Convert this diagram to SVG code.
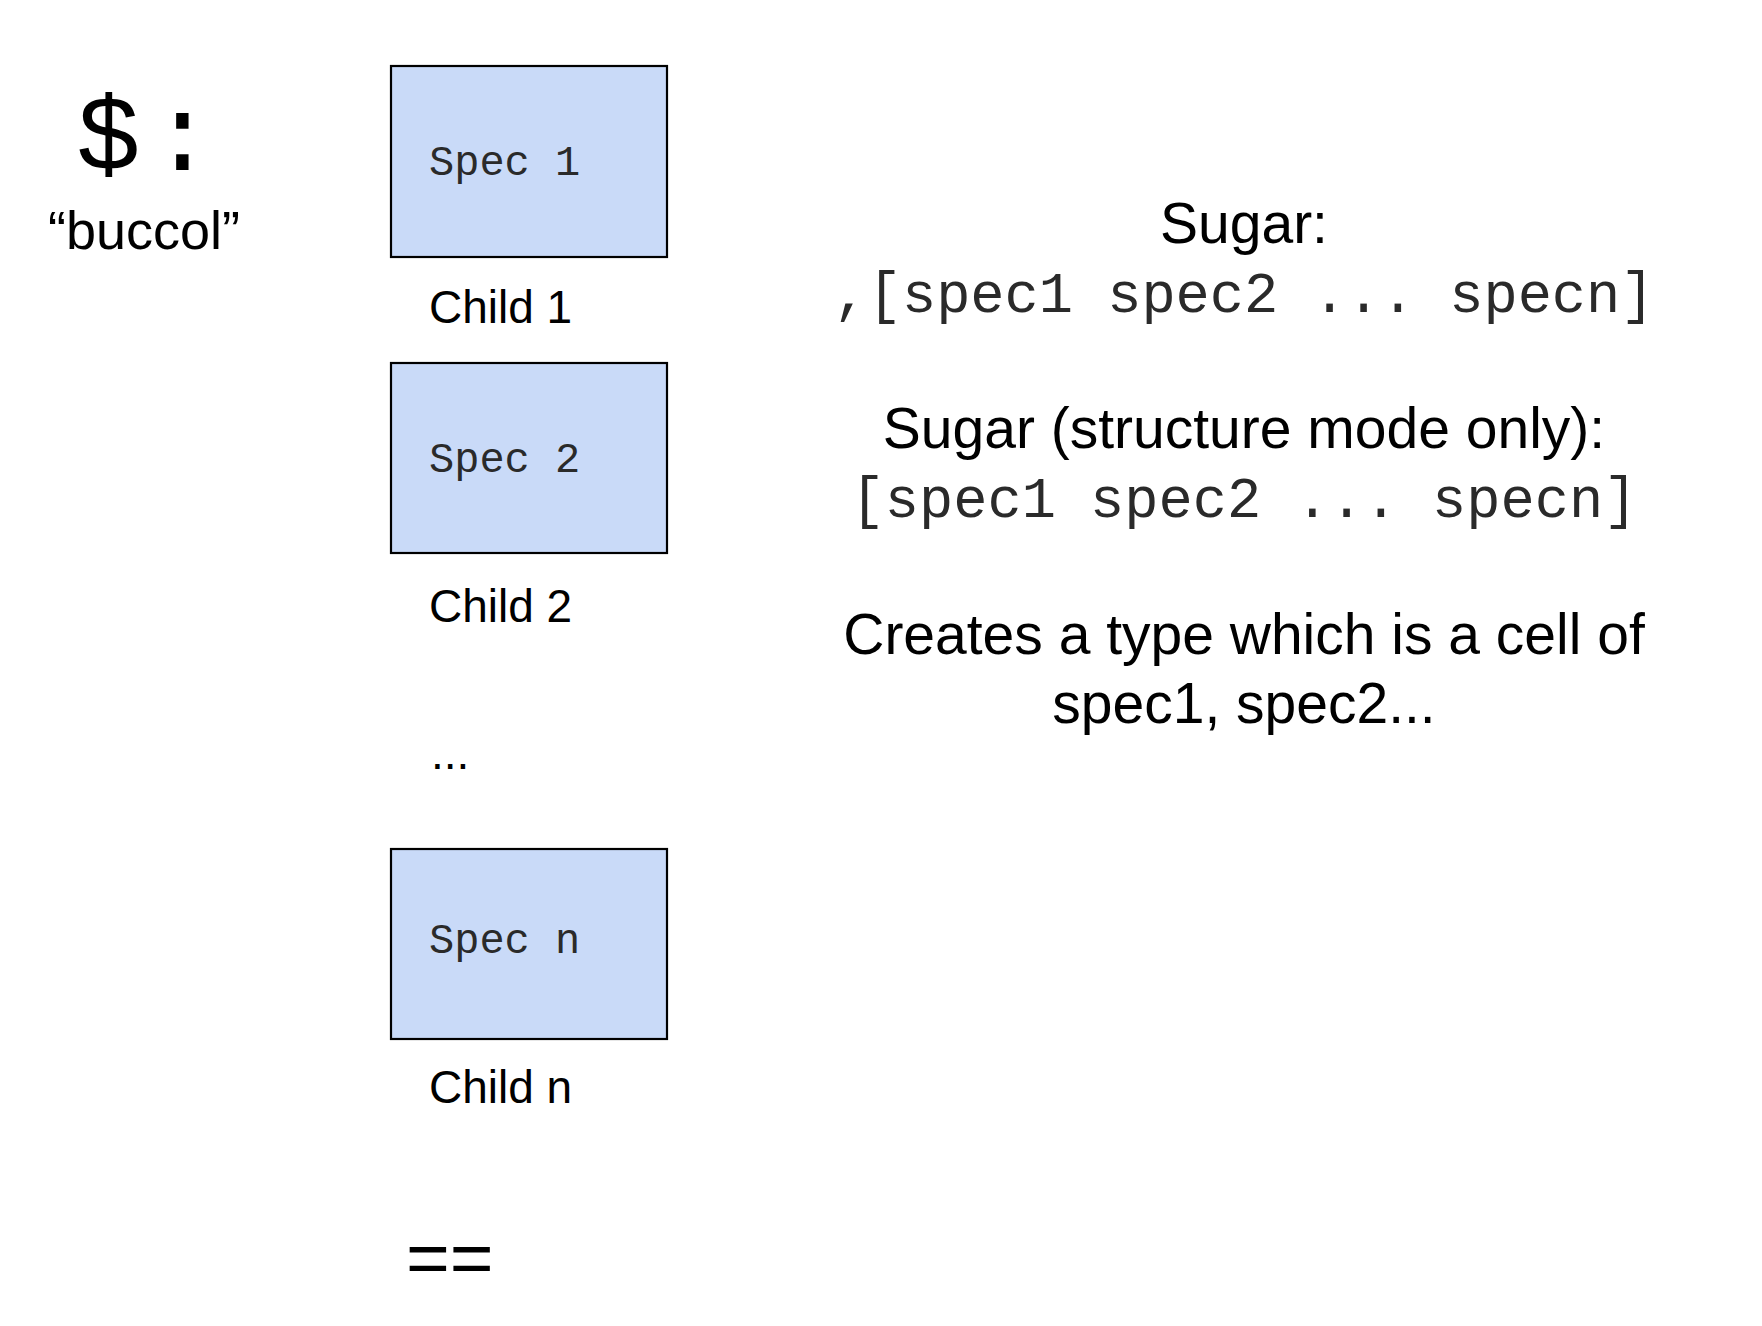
<svg xmlns="http://www.w3.org/2000/svg" width="1762" height="1326" viewBox="0 0 1762 1326">
<style>
.bg{fill:#ffffff}
.box{fill:#c9daf8;stroke:#000000;stroke-width:2.2}
.sans{font-family:"Liberation Sans",Arial,sans-serif;fill:#000000}
.mono{font-family:"Liberation Mono","Courier New",monospace;fill:#2a2a2a}
.spec{font-size:42px}
.child{font-size:46px}
.big{font-size:57px}
.mid{text-anchor:middle}
</style>
<rect class="bg" x="0" y="0" width="1762" height="1326"/>
<g id="title">
<text class="mono" x="76" y="170" font-size="108" letter-spacing="-27.8" fill="#000000" style="fill:#000000">$ :</text>
<text class="sans" x="48" y="249" font-size="54">“buccol”</text>
</g>
<g id="child1">
<rect class="box" x="391" y="66" width="276" height="191"/>
<text class="mono spec" x="429" y="175">Spec 1</text>
<text class="sans child" x="429" y="323">Child 1</text>
</g>
<g id="child2">
<rect class="box" x="391" y="363" width="276" height="190"/>
<text class="mono spec" x="429" y="472">Spec 2</text>
<text class="sans child" x="429" y="622">Child 2</text>
</g>
<g id="ellipsis">
<text class="sans child" x="431" y="769">...</text>
</g>
<g id="childn">
<rect class="box" x="391" y="849" width="276" height="190"/>
<text class="mono spec" x="429" y="953">Spec n</text>
<text class="sans child" x="429" y="1103">Child n</text>
</g>
<g id="equals">
<text class="sans" x="406" y="1283" font-size="75">==</text>
</g>
<g id="connectors"></g>
<g id="notes">
<text class="sans big mid" x="1244" y="243">Sugar:</text>
<text class="mono big mid" x="1244" y="312">,[spec1 spec2 ... specn]</text>
<text class="sans big mid" x="1244" y="448">Sugar (structure mode only):</text>
<text class="mono big mid" x="1244" y="517">[spec1 spec2 ... specn]</text>
<text class="sans big mid" x="1244" y="654">Creates a type which is a cell of</text>
<text class="sans big mid" x="1244" y="723">spec1, spec2...</text>
</g>
</svg>
